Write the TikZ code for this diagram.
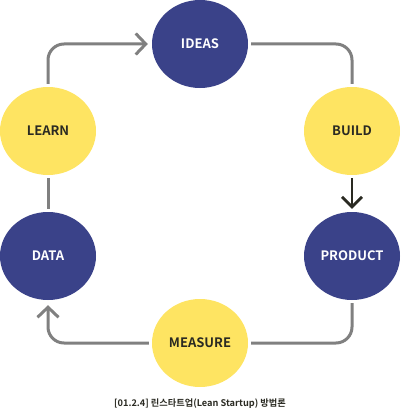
\documentclass[tikz,border=0pt]{standalone}
\usepackage{fontspec}
\setmainfont{Noto Sans CJK KR}[BoldFont={Noto Sans CJK KR Bold}]
\usetikzlibrary{arrows.meta,shapes.geometric}
\definecolor{navy}{HTML}{3A4289}
\definecolor{sun}{HTML}{FEE462}
\definecolor{linegray}{HTML}{808080}
\definecolor{ink}{HTML}{2A2A22}
\tikzset{
  blob/.style={ellipse, minimum width=96pt, minimum height=88pt, inner sep=0pt,
    font=\fontsize{13}{14}\selectfont\bfseries},
  navyblob/.style={blob, fill=navy, text=white},
  sunblob/.style={blob, fill=sun, text=ink},
  conn/.style={draw=linegray, line width=3pt, rounded corners=16pt},
  connarrow/.style={conn, -{Straight Barb[length=10pt,width=21pt,line width=3pt]}},
  blackarrow/.style={draw=ink, line width=2.7pt, -{Straight Barb[length=10pt,width=20pt,line width=2.7pt]}}
}
\begin{document}
\begin{tikzpicture}[x=1pt,y=-1pt]
\useasboundingbox (0,0) rectangle (400,412);
\node[navyblob] (ideas) at (200,44) {IDEAS};
\node[sunblob] (learn) at (48,131) {LEARN};
\node[sunblob] (build) at (352,131) {BUILD};
\node[navyblob] (data) at (48,256) {DATA};
\node[navyblob] (product) at (352,256) {PRODUCT};
\node[sunblob] (measure) at (200,343) {MEASURE};
\node[font=\fontsize{9.2}{10}\selectfont\bfseries, text=ink] (cap) at (200,404) {[01.2.4] 린스타트업(Lean Startup) 방법론};
\draw[connarrow] ([yshift=3pt]learn.north) |- ([xshift=-4pt]ideas.west);
\draw[conn] ([xshift=3pt]ideas.east) -| ([yshift=3pt]build.north);
\draw[blackarrow] ([yshift=-3pt]build.south) -- ([yshift=3pt]product.north);
\draw[conn] ([yshift=-3pt]learn.south) -- ([yshift=3pt]data.north);
\draw[conn] ([yshift=-3pt]product.south) |- ([xshift=3pt]measure.east);
\draw[connarrow] ([xshift=-3pt]measure.west) -| ([yshift=-5pt]data.south);
\end{tikzpicture}
\end{document}
